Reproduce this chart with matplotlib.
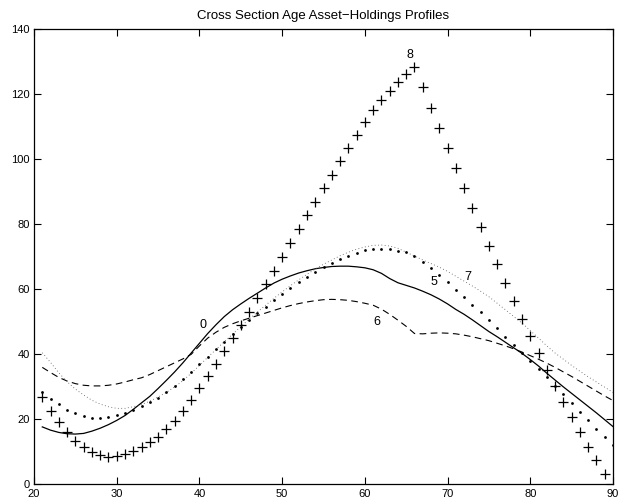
import matplotlib
matplotlib.use("Agg")
import matplotlib.pyplot as plt
import numpy as np

plt.rcParams['font.family'] = ['Liberation Sans', 'DejaVu Sans']

ages = list(range(21, 91))

# series "0" (solid)
s0 = [17.7, 16.7, 16.0, 15.6, 15.5, 15.7, 16.4, 17.3, 18.4, 19.7,
      21.2, 23.1, 25.1, 27.1, 29.5, 32.0, 34.6, 37.4, 40.4, 43.4,
      46.4, 49.1, 51.6, 53.7, 55.5, 57.2, 58.8, 60.4, 61.9, 63.1,
      64.1, 65.0, 65.7, 66.3, 66.7, 67.0, 67.1, 67.1, 66.9, 66.6,
      66.0, 64.9, 63.3, 62.0, 61.2, 60.4, 59.4, 58.3, 57.0, 55.5,
      53.8, 52.3, 50.6, 48.8, 47.0, 45.4, 43.7, 42.0, 40.3, 38.4,
      36.4, 34.2, 32.1, 30.0, 28.0, 26.0, 24.0, 22.0, 19.9, 17.8]

# series "6" (dashed)
s6 = [36.0, 34.4, 32.9, 31.8, 31.0, 30.5, 30.3, 30.3, 30.5, 30.9,
      31.5, 32.2, 32.8, 33.8, 35.0, 36.2, 37.4, 38.6, 40.0, 42.6,
      45.0, 46.8, 48.3, 49.4, 50.3, 51.1, 51.9, 52.7, 53.5, 54.3,
      55.0, 55.6, 56.1, 56.5, 56.8, 56.9, 56.8, 56.6, 56.2, 55.7,
      55.1, 53.9, 52.3, 50.5, 48.6, 46.4, 46.3, 46.5, 46.6, 46.5,
      46.3, 45.9, 45.4, 44.8, 44.2, 43.4, 42.6, 41.7, 40.7, 39.6,
      38.5, 37.3, 36.0, 34.6, 33.2, 31.7, 30.2, 28.7, 27.2, 25.8]

# series "7" (thin dotted)
s7 = [40.5, 37.5, 34.3, 31.6, 29.3, 27.5, 25.9, 24.7, 23.9, 23.4,
      23.4, 23.9, 24.6, 25.6, 26.9, 28.3, 30.0, 31.9, 34.2, 36.6,
      39.1, 41.5, 43.9, 46.2, 48.5, 50.8, 53.0, 55.1, 57.2, 59.2,
      61.1, 62.9, 64.6, 66.2, 67.7, 69.0, 70.3, 71.4, 72.3, 73.0,
      73.5, 73.6, 73.3, 72.6, 71.4, 70.2, 69.0, 67.9, 66.8, 65.5,
      64.0, 62.5, 61.0, 59.4, 57.7, 55.7, 53.7, 51.6, 49.6, 47.3,
      45.0, 42.6, 40.4, 38.5, 36.6, 34.8, 33.1, 31.5, 29.9, 28.3]

# series "5" (dots)
s5 = [28.5, 26.3, 24.6, 23.0, 21.9, 21.1, 20.5, 20.3, 20.7, 21.3,
      22.0, 22.9, 24.0, 25.3, 26.7, 28.4, 30.3, 32.3, 34.7, 36.9,
      39.3, 41.6, 43.9, 46.2, 48.3, 50.5, 52.6, 54.6, 56.6, 58.6,
      60.5, 62.1, 63.8, 65.3, 66.7, 68.0, 69.2, 70.2, 71.2, 72.0,
      72.4, 72.5, 72.3, 71.9, 71.4, 70.3, 68.3, 66.4, 64.4, 62.1,
      59.8, 57.5, 55.3, 52.9, 50.6, 48.0, 45.4, 42.9, 40.3, 38.0,
      35.4, 32.9, 30.4, 27.7, 25.0, 22.4, 19.7, 17.1, 14.7, 12.1]

# series "8" (plus markers), ages 21..89
ages8 = list(range(21, 90))
s8 = [27.0, 22.7, 19.1, 16.0, 13.5, 11.4, 9.9, 9.0, 8.5, 8.8,
      9.4, 10.3, 11.4, 13.0, 14.7, 17.1, 19.6, 22.6, 26.1, 29.8,
      33.4, 37.0, 41.0, 44.9, 49.0, 53.1, 57.4, 61.6, 65.7, 70.0,
      74.3, 78.5, 82.8, 86.9, 91.2, 95.2, 99.4, 103.5, 107.5, 111.5,
      115.1, 118.2, 121.0, 123.8, 126.2, 128.4, 122.1, 115.7, 109.5, 103.3,
      97.2, 91.1, 85.1, 79.0, 73.4, 67.7, 61.9, 56.4, 50.9, 45.6,
      40.3, 35.2, 30.4, 25.5, 20.7, 16.2, 11.6, 7.5, 3.3]

labels = ["0", "6", "5", "7", "8"]
label_pos = [(40.4, 49.0), (61.4, 50.0), (68.4, 62.1), (72.4, 63.9), (65.5, 132.0)]

xticks = list(range(20, 91, 10))
yticks = list(range(0, 141, 20))

fig = plt.figure(figsize=(6.21, 5.04), dpi=100)
ax = fig.add_axes([0.0548, 0.0387, 0.9323, 0.9038])

ax.plot(ages, s0, color='black', lw=0.9, ls='-')
ax.plot(ages, s6, color='black', lw=0.8, ls=(0, (6, 4)))
ax.plot(ages, s7, color='#555555', lw=0.6, ls=(0, (1, 3)))
ax.plot(ages, s5, color='black', ls='none', marker='o', ms=2.0, mew=0)
ax.plot(ages8, s8, color='black', ls='none', marker='+', ms=6.5, mew=0.9)

for lab, (lx, ly) in zip(labels, label_pos):
    ax.text(lx, ly, lab, fontsize=9, ha='center', va='center')

ax.set_xlim(20, 90)
ax.set_ylim(0, 140)
ax.set_xticks(xticks)
ax.set_yticks(yticks)
ax.tick_params(direction='in', length=5, width=0.8, top=True, right=True,
               labelsize=8, pad=3)
for sp in ax.spines.values():
    sp.set_linewidth(0.9)
ax.set_title('Cross Section Age Asset\u2212Holdings Profiles', fontsize=9.5, pad=7)

fig.savefig('out.png', dpi=100)
